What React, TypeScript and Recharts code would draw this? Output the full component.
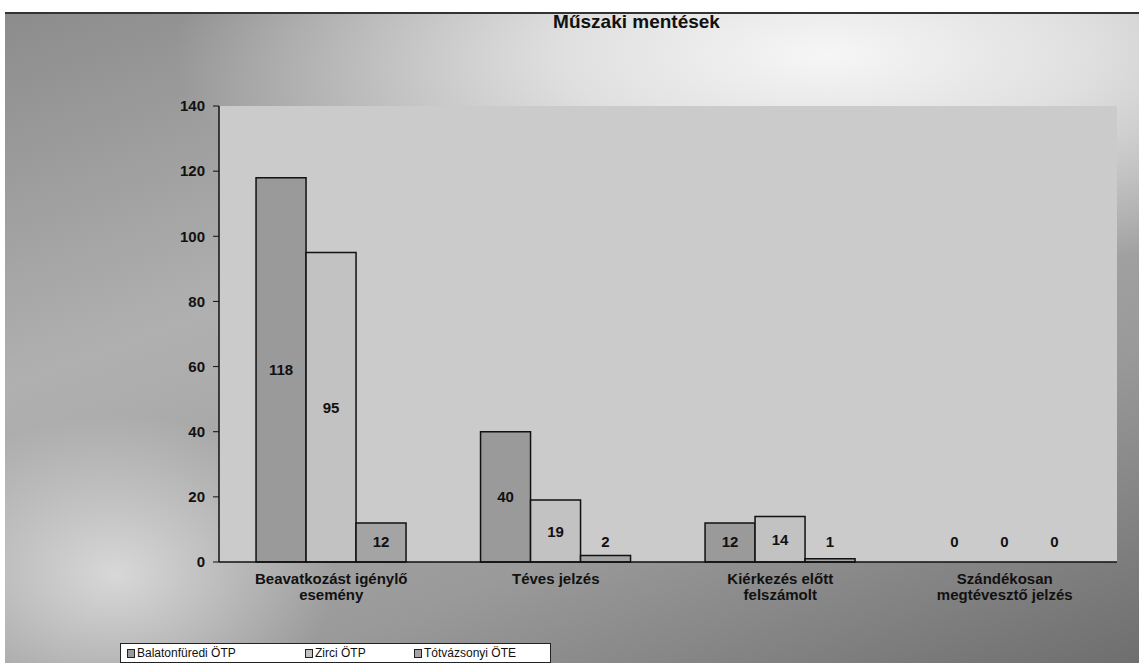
import { BarChart, Bar, XAxis, YAxis, CartesianGrid, Legend, LabelList, Rectangle } from 'recharts'

const categories = [
  ['Beavatkozást igénylő', 'esemény'],
  ['Téves jelzés'],
  ['Kiérkezés előtt', 'felszámolt'],
  ['Szándékosan', 'megtévesztő jelzés'],
]
const balatonfuredi = [118, 40, 12, 0]
const zirci = [95, 19, 14, 0]
const totvazsonyi = [12, 2, 1, 0]
const yTicks = [0, 20, 40, 60, 80, 100, 120, 140]

const series = [
  { key: 'balatonfuredi', name: 'Balatonfüredi ÖTP', color: '#9a9a9a', w: 178 },
  { key: 'zirci', name: 'Zirci ÖTP', color: '#c2c2c2', w: 109 },
  { key: 'totvazsonyi', name: 'Tótvázsonyi ÖTE', color: '#a4a4a4', w: 120 },
]

const data = categories.map((c, i) => ({
  name: c.join('\n'),
  balatonfuredi: balatonfuredi[i],
  zirci: zirci[i],
  totvazsonyi: totvazsonyi[i],
}))

const font = 'Liberation Sans, Arial, sans-serif'

// label sits in the middle of the bar, but never lower than ~20px above the baseline
const BarValue = (props: any) => {
  const { x, y, width, height, value } = props
  const base = y + height
  const cy = Math.min(y + height / 2, base - 21)
  return (
    <text x={x + width / 2} y={cy} textAnchor="middle" dominantBaseline="central"
      fontFamily={font} fontWeight="bold" fontSize={15} fill="#111">
      {value}
    </text>
  )
}

// zero bars get a tiny min size so their labels still show, but no outline is drawn
const BarShape = (props: any) => {
  if (!props.value && props.value !== undefined && props.height < 1) return <g />
  return <Rectangle {...props} />
}

const CategoryTick = (props: any) => {
  const { x, y, payload } = props
  const lines = String(payload.value).split('\n')
  return (
    <text x={x} y={y} textAnchor="middle" fontFamily={font} fontWeight="bold" fontSize={15} fill="#111">
      {lines.map((l, i) => (
        <tspan key={i} x={x} dy={i === 0 ? 14 : 16}>{l}</tspan>
      ))}
    </text>
  )
}

const LegendBox = () => (
  <div style={{
    background: '#fff', border: '1px solid #222', height: 20, boxSizing: 'border-box',
    display: 'flex', alignItems: 'center', paddingLeft: 6, fontFamily: font, fontSize: 12, color: '#111',
  }}>
    {series.map((s) => (
      <span key={s.key} style={{ display: 'inline-flex', alignItems: 'center', width: s.w }}>
        <span style={{ width: 6, height: 7, border: '1.5px solid #222', background: s.color, marginRight: 2 }} />
        {s.name}
      </span>
    ))}
  </div>
)

export default function App() {
  return (
    <div style={{
      position: 'absolute', left: 0, top: 0, width: 1139, height: 663, overflow: 'hidden',
      background: '#fff',
    }}>
      <div style={{
        position: 'absolute', left: 5, top: 12, width: 1134, height: 651,
        borderTop: '2px solid #333',
        background: [
          'radial-gradient(ellipse 650px 230px at 820px 40px, #f6f6f6 0%, #e0e0e0 40%, rgba(210,210,210,0) 100%)',
          'radial-gradient(ellipse 220px 160px at 110px 560px, rgba(225,225,225,0.85) 0%, rgba(200,200,200,0) 100%)',
          'linear-gradient(160deg, #8c8c8c 0%, #b0b0b0 35%, #9a9a9a 70%, #6e6e6e 100%)',
        ].join(', '),
      }} />
      <div style={{
        position: 'absolute', left: 0, width: 1139, top: 11, textAlign: 'center', paddingLeft: 134, boxSizing: 'border-box',
        fontFamily: font, fontWeight: 'bold', fontSize: 19, color: '#111',
      }}>
        Műszaki mentések
      </div>
      <div style={{ position: 'absolute', left: 0, top: 0 }}>
        <BarChart width={1139} height={663} data={data}
          margin={{ top: 106, right: 22, bottom: 41, left: 159 }}
          barCategoryGap="16.5%" barGap={0}>
          <CartesianGrid horizontal={false} vertical={false} fill="#cbcbcb" fillOpacity={1} />
          <XAxis dataKey="name" tick={<CategoryTick />} tickLine={false} interval={0}
            axisLine={{ stroke: '#111', strokeWidth: 1.5 }} height={60} />
          <YAxis domain={[0, 140]} ticks={yTicks} width={60} tickSize={6} tickMargin={8}
            axisLine={{ stroke: '#111', strokeWidth: 1.5 }} tickLine={{ stroke: '#111' }}
            tick={{ fontFamily: font, fontWeight: 'bold', fontSize: 15, fill: '#111' }} />
          <Legend layout="vertical" align="center" verticalAlign="middle" content={<LegendBox />}
            wrapperStyle={{ left: 120, top: 643, width: 431, height: 20 }} />
          {series.map((s) => (
            <Bar key={s.key} dataKey={s.key} name={s.name} fill={s.color}
              stroke="#111" strokeWidth={1.5} isAnimationActive={false}
              minPointSize={0.1} shape={<BarShape />}>
              <LabelList dataKey={s.key} content={<BarValue />} />
            </Bar>
          ))}
        </BarChart>
      </div>
    </div>
  )
}
